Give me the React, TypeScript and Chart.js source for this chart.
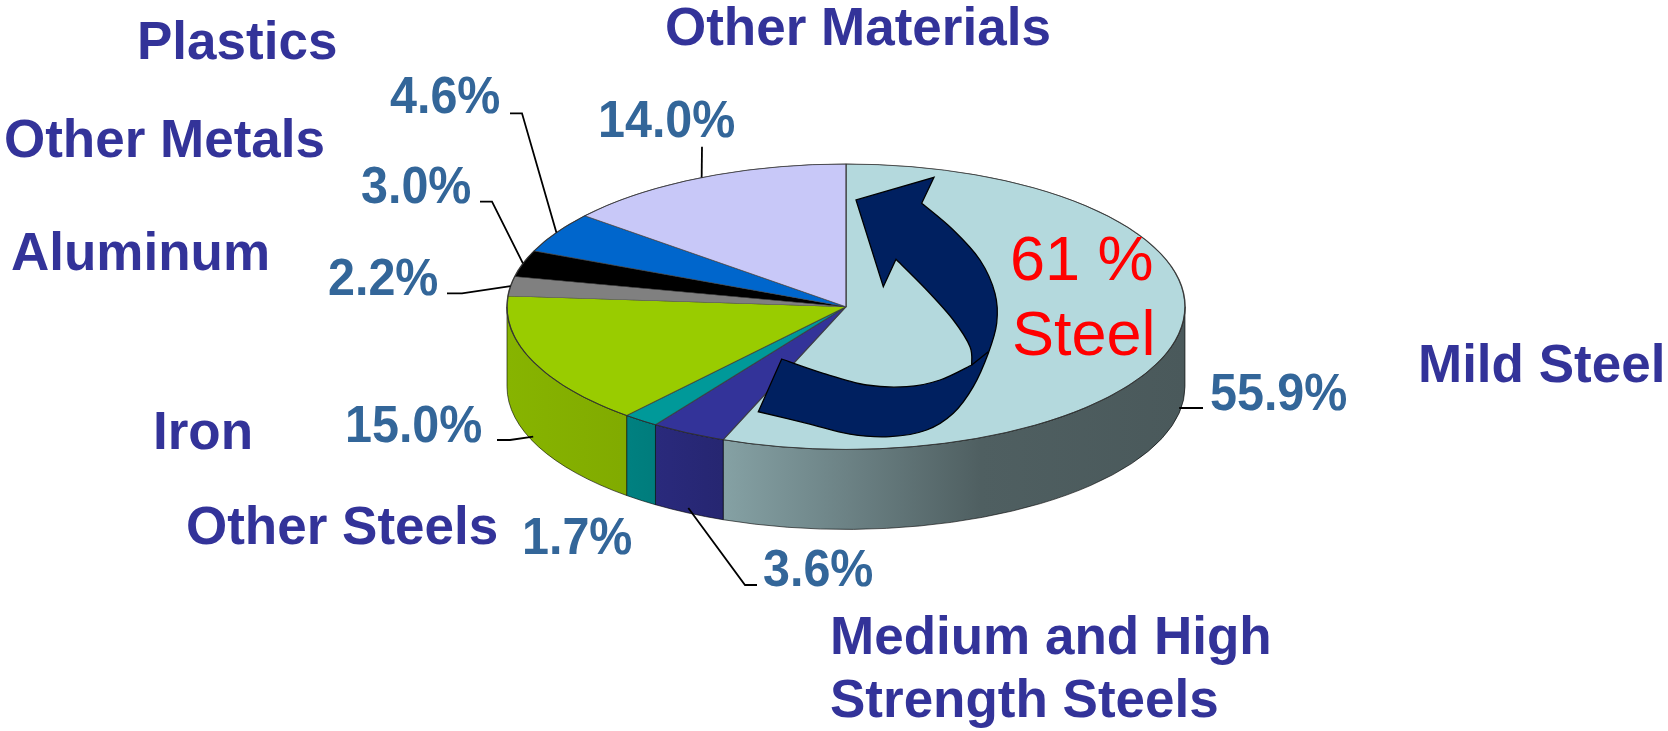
import React, { useEffect, useRef } from 'react';
import { Chart, registerables } from 'chart.js';

Chart.register(...registerables);

// ---------------- data ----------------
const categories = [
  'Mild Steel',
  'Medium and High Strength Steels',
  'Other Steels',
  'Iron',
  'Aluminum',
  'Other Metals',
  'Plastics',
  'Other Materials',
];
const shares = [55.9, 3.6, 1.7, 15.0, 2.2, 3.0, 4.6, 14.0];
const percentLabels = ['55.9%', '3.6%', '1.7%', '15.0%', '2.2%', '3.0%', '4.6%', '14.0%'];
const categoryLabelLines = [
  ['Mild Steel'],
  ['Medium and High', 'Strength Steels'],
  ['Other Steels'],
  ['Iron'],
  ['Aluminum'],
  ['Other Metals'],
  ['Plastics'],
  ['Other Materials'],
];
const steelCallout = ['61 %', 'Steel'];

// ---------------- styles / layout ----------------
const topColors = ['#B4D9DD', '#333399', '#009999', '#99CC00', '#808080', '#000000', '#0066CC', '#C8C8F8'];
const CAT_COLOR = '#333399';
const PCT_COLOR = '#336699';
const ARROW_COLOR = '#002060';
const CAT_FONT = 'bold 53px "Liberation Sans", Arial, sans-serif';
const PCT_FONT = 'bold 51px "Liberation Sans", Arial, sans-serif';
const CALLOUT_FONT = '63px "Liberation Sans", Arial, sans-serif';
const PCT_SQUEEZE = 0.95;

const CANVAS_W = 1668;
const CANVAS_H = 731;
const PIE_RADIUS = 339;
const TILT = 0.421;
const DEPTH = 80;
const ANCHOR_DROP = 75;
const SHADE_STOPS: [number, number][] = [
  [0, 0.88], [0.17, 0.84], [0.24, 0.8], [0.32, 0.74], [0.5, 0.6], [0.7, 0.44], [1, 0.41],
];

const catPos: [number, number][] = [
  [1418, 381.7], [830, 654], [186, 544], [153, 449.3], [11, 270], [4, 156.7], [137, 59.3], [665, 45],
];
const CAT_LINE_GAP = 63.3;
const pctPos: [number, number][] = [
  [1210, 410], [763, 586], [522, 554], [345, 441.7], [328, 295], [361, 202.7], [390, 113.3], [598, 136.7],
];
// leader points from label side toward the slice (anchor appended at runtime)
const leaderPaths: ([number, number][] | null)[] = [
  [[1203, 408]],
  [[757, 585], [745, 585]],
  null,
  [[497, 440], [510, 440]],
  [[447, 293.3], [462, 293.3]],
  [[480, 201.7], [492, 201.7]],
  [[510, 113.3], [522, 113.3]],
  [[702, 146.7]],
];
const calloutPos: [number, number][] = [[1010, 279.5], [1012, 355]];

// arrow outline, offsets from pie centre
const arrowHead: [number, number][] = [[50, -47.4], [37.3, -20], [10, -106.7], [88, -129.4], [75.7, -103.4]];
const arrowOuter: [number, number][] = [
  [75.7, -103.4], [107.3, -76.7], [134, -46.7], [149, -13.4], [150.7, 16.6], [142.3, 46.6],
  [127.3, 80], [107.3, 106.6], [80.7, 123.3], [44, 130], [4, 127.5], [-39.3, 116.6], [-87.7, 105],
];
const arrowInnerLow: [number, number][] = [
  [-64.3, 52.3], [-22.7, 66.6], [20.7, 78.3], [60.7, 80], [94, 73.3], [125.7, 58.3],
];
const arrowInnerUp: [number, number][] = [
  [125.7, 58.3], [124, 40], [107.3, 13.3], [80.7, -16.7], [50, -47.4],
];
const arrowFold: [number, number][] = [[125.7, 58.3], [142.3, 45]];

// ---------------- helpers ----------------
function shade(hex: string, f: number) {
  const n = parseInt(hex.slice(1), 16);
  const r = Math.round(((n >> 16) & 255) * f);
  const g = Math.round(((n >> 8) & 255) * f);
  const b = Math.round((n & 255) * f);
  return `rgb(${r},${g},${b})`;
}

function spline(ctx: CanvasRenderingContext2D, pts: [number, number][]) {
  for (let i = 0; i < pts.length - 1; i++) {
    const p0 = pts[i - 1] || pts[i];
    const p1 = pts[i];
    const p2 = pts[i + 1];
    const p3 = pts[i + 2] || p2;
    ctx.bezierCurveTo(
      p1[0] + (p2[0] - p0[0]) / 6, p1[1] + (p2[1] - p0[1]) / 6,
      p2[0] - (p3[0] - p1[0]) / 6, p2[1] - (p3[1] - p1[1]) / 6,
      p2[0], p2[1]
    );
  }
}

const pie3d = {
  id: 'pie3d',
  beforeDatasetsDraw(chart: any) {
    const ctx: CanvasRenderingContext2D = chart.ctx;
    const arcs = chart.getDatasetMeta(0).data as any[];
    ctx.save();
    if (!arcs.length) return;
    const cx = arcs[0].x, cy = arcs[0].y, R = arcs[0].outerRadius;
    const ry = R * TILT;
    arcs.forEach((arc: any, i: number) => {
      const a0 = Math.max(arc.startAngle, 0);
      const a1 = Math.min(arc.endAngle, Math.PI);
      if (a1 <= a0) return;
      const g = ctx.createLinearGradient(cx - R, 0, cx + R, 0);
      SHADE_STOPS.forEach(([t, f]) => g.addColorStop(t, shade(topColors[i], f)));
      ctx.beginPath();
      ctx.ellipse(cx, cy, R, ry, 0, a0, a1, false);
      ctx.ellipse(cx, cy + DEPTH, R, ry, 0, a1, a0, true);
      ctx.closePath();
      ctx.fillStyle = g;
      ctx.fill();
      ctx.strokeStyle = 'rgba(0,0,0,0.6)';
      ctx.lineWidth = 1;
      ctx.stroke();
    });
    ctx.translate(cx, cy);
    ctx.scale(1, TILT);
    ctx.translate(-cx, -cy);
  },
  afterDatasetsDraw(chart: any) {
    const ctx: CanvasRenderingContext2D = chart.ctx;
    ctx.restore();
    const arcs = chart.getDatasetMeta(0).data as any[];
    if (!arcs.length) return;
    const cx = arcs[0].x, cy = arcs[0].y, R = arcs[0].outerRadius;
    const ry = R * TILT;

    // top rim
    ctx.beginPath();
    ctx.ellipse(cx, cy, R, ry, 0, 0, Math.PI * 2);
    ctx.strokeStyle = 'rgba(40,40,40,0.7)';
    ctx.lineWidth = 1;
    ctx.stroke();

    // leaders
    ctx.strokeStyle = '#000';
    ctx.lineWidth = 1.8;
    arcs.forEach((arc: any, i: number) => {
      const path = leaderPaths[i];
      if (!path) return;
      const mid = (arc.startAngle + arc.endAngle) / 2;
      const ax = cx + R * Math.cos(mid);
      let ay = cy + ry * Math.sin(mid);
      if (Math.sin(mid) > 0) ay += ANCHOR_DROP;
      ctx.beginPath();
      ctx.moveTo(path[0][0], path[0][1]);
      for (let k = 1; k < path.length; k++) ctx.lineTo(path[k][0], path[k][1]);
      ctx.lineTo(ax, ay);
      ctx.stroke();
    });

    // percentages
    ctx.font = PCT_FONT;
    ctx.fillStyle = PCT_COLOR;
    ctx.textAlign = 'left';
    ctx.textBaseline = 'alphabetic';
    percentLabels.forEach((t, i) => {
      ctx.save();
      ctx.translate(pctPos[i][0], pctPos[i][1]);
      ctx.scale(PCT_SQUEEZE, 1);
      ctx.fillText(t, 0, 0);
      ctx.restore();
    });

    // category names
    ctx.font = CAT_FONT;
    ctx.fillStyle = CAT_COLOR;
    categoryLabelLines.forEach((lines, i) => {
      lines.forEach((ln, j) => ctx.fillText(ln, catPos[i][0], catPos[i][1] + j * CAT_LINE_GAP));
    });

    // curved arrow
    const P = (p: [number, number]): [number, number] => [cx + p[0], cy + p[1]];
    ctx.beginPath();
    const head = arrowHead.map(P);
    ctx.moveTo(head[0][0], head[0][1]);
    for (let k = 1; k < head.length; k++) ctx.lineTo(head[k][0], head[k][1]);
    spline(ctx, arrowOuter.map(P));
    const low = arrowInnerLow.map(P);
    ctx.lineTo(low[0][0], low[0][1]);
    spline(ctx, low);
    spline(ctx, arrowInnerUp.map(P));
    ctx.closePath();
    ctx.fillStyle = ARROW_COLOR;
    ctx.fill();
    ctx.strokeStyle = '#000';
    ctx.lineWidth = 1.3;
    ctx.lineJoin = 'miter';
    ctx.stroke();
    const fold = arrowFold.map(P);
    ctx.beginPath();
    ctx.moveTo(fold[0][0], fold[0][1]);
    ctx.lineTo(fold[1][0], fold[1][1]);
    ctx.stroke();

    // callout
    ctx.font = CALLOUT_FONT;
    ctx.fillStyle = '#FF0000';
    steelCallout.forEach((t, i) => ctx.fillText(t, calloutPos[i][0], calloutPos[i][1]));
  },
};

export default function App() {
  const ref = useRef<HTMLCanvasElement>(null);
  useEffect(() => {
    document.body.style.margin = '0';
    const canvas = ref.current;
    if (!canvas) return;
    const chart = new Chart(canvas, {
      type: 'pie',
      data: {
        labels: categories,
        datasets: [
          {
            data: shares,
            backgroundColor: topColors,
            borderColor: 'rgba(60,60,60,0.8)',
            borderWidth: 1.5,
            radius: PIE_RADIUS,
            clip: false,
          } as any,
        ],
      },
      options: {
        responsive: false,
        animation: false,
        events: [],
        layout: { padding: { left: 24, right: 0, top: 0, bottom: 117.6 } },
        plugins: { legend: { display: false }, tooltip: { enabled: false }, title: { display: false } },
      },
      plugins: [pie3d],
    });
    return () => chart.destroy();
  }, []);
  return (
    <canvas
      ref={ref}
      width={CANVAS_W}
      height={CANVAS_H}
      style={{ display: 'block', width: CANVAS_W, height: CANVAS_H }}
    />
  );
}
